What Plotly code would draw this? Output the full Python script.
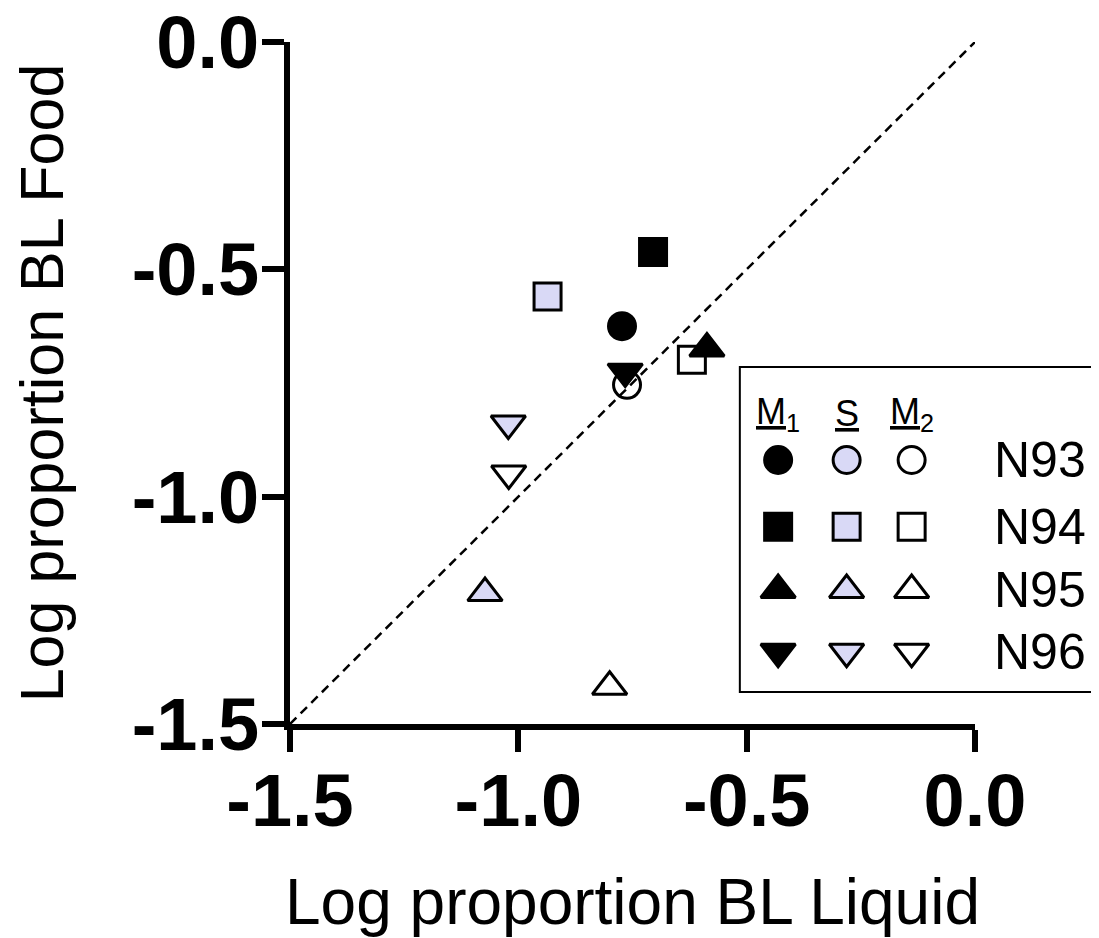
import plotly.graph_objects as go

# ---- data ----
groups = ["N93", "N94", "N95", "N96"]
symbols_up = ["circle", "square", "triangle-up", "triangle-down"]

m1_x = [-0.773, -0.705, -0.587, -0.766]
m1_y = [-0.625, -0.462, -0.674, -0.725]

s_x = [None, -0.936, -1.073, -1.022]
s_y = [None, -0.560, -1.212, -0.839]

m2_x = [-0.762, -0.620, -0.800, -1.021]
m2_y = [-0.754, -0.699, -1.418, -0.949]

identity_line = [-1.5, 0.0]

tick_vals = [-1.5, -1.0, -0.5, 0.0]
tick_text = ["-1.5", "-1.0", "-0.5", "0.0"]

FONT = "Liberation Sans, Arial, sans-serif"
LIGHT = "#d9d9f6"
SIZES = [27, 27, 30, 30]
MLINE = 3

fig = go.Figure()


def mk(fill):
    return dict(symbol=symbols_up, size=SIZES, color=fill, opacity=1,
                line=dict(color="black", width=MLINE))


# M2 (open) first
fig.add_trace(go.Scatter(x=m2_x, y=m2_y, mode="markers", marker=mk("white"),
                         showlegend=False, cliponaxis=False))
# S (light fill)
fig.add_trace(go.Scatter(x=s_x, y=s_y, mode="markers", marker=mk(LIGHT),
                         showlegend=False, cliponaxis=False))
# M1 (filled)
fig.add_trace(go.Scatter(x=m1_x, y=m1_y, mode="markers", marker=mk("black"),
                         showlegend=False, cliponaxis=False))
# identity line
fig.add_trace(go.Scatter(x=identity_line, y=identity_line, mode="lines",
                         line=dict(color="black", width=2.5, dash="9px,6px"),
                         showlegend=False))

# ---- custom legend (grid of markers) on an overlay axis ----
col_x = [0.7126, 0.8126, 0.9075]
row_y = [0.3871, 0.2893, 0.1965, 0.1060]
fills = ["black", LIGHT, "white"]
for ci, fcol in enumerate(fills):
    fig.add_trace(go.Scatter(x=[col_x[ci]] * len(groups), y=row_y, mode="markers",
                             xaxis="x2", yaxis="y2", marker=mk(fcol),
                             showlegend=False, hoverinfo="skip"))

annotations = []
for gi, g in enumerate(groups):
    annotations.append(dict(x=1.025, y=row_y[gi], xref="paper", yref="paper",
                            text=g, showarrow=False, xanchor="left", yanchor="middle",
                            font=dict(family=FONT, size=50, color="black")))
headers = ["<u>M</u><sub>1</sub>", "<u>S</u>", "<u>M</u><sub>2</sub>"]
header_x = [0.7126, 0.8126, 0.9075]
for hx, ht in zip(header_x, headers):
    annotations.append(dict(x=hx, y=0.455, xref="paper", yref="paper", text=ht,
                            showarrow=False, xanchor="center", yanchor="middle",
                            font=dict(family=FONT, size=36, color="black")))

shapes = [dict(type="rect", xref="paper", yref="paper",
               x0=0.6567, x1=1.19, y0=0.0469, y1=0.5235,
               line=dict(color="black", width=2), fillcolor="white", layer="below")]

axis_common = dict(
    showline=True, linecolor="black", linewidth=6,
    ticks="outside", ticklen=22, tickwidth=6, tickcolor="black",
    showgrid=False, zeroline=False, automargin=False,
    ticklabeloverflow="allow",
    tickmode="array", tickvals=tick_vals, ticktext=tick_text,
    tickfont=dict(family=FONT, size=74, color="black", weight="bold"),
    range=[-1.5, 0.0],
)

# page body has an 8px margin: figure is shrunk by 8px and margins shifted
fig.update_layout(
    width=1091, height=930,
    paper_bgcolor="white", plot_bgcolor="white",
    margin=dict(l=282, r=124, t=34, b=214),
    xaxis=dict(**axis_common, ticklabelstandoff=-15,
               title=dict(text="Log proportion BL Liquid",
                          font=dict(family=FONT, size=64, color="black"), standoff=44)),
    yaxis=dict(**axis_common, ticklabelstandoff=-12,
               title=dict(text="Log proportion BL Food",
                          font=dict(family=FONT, size=61, color="black"), standoff=52)),
    xaxis2=dict(overlaying="x", range=[0, 1], visible=False),
    yaxis2=dict(overlaying="y", range=[0, 1], visible=False),
    annotations=annotations,
    shapes=shapes,
)

fig.write_html("out.html")
